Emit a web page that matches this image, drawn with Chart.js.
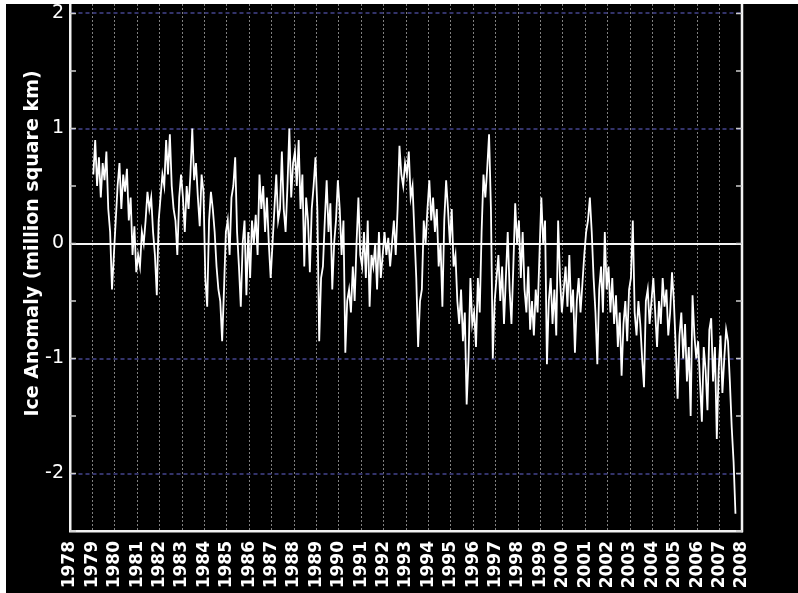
<!DOCTYPE html>
<html>
<head>
<meta charset="utf-8">
<script src="https://cdn.jsdelivr.net/npm/chart.js@4/dist/chart.umd.min.js"></script>
<style>
  html, body { margin: 0; padding: 0; background: #ffffff; width: 798px; height: 593px; overflow: hidden; }
  #wrap { position: absolute; left: 6px; top: 4px; width: 792px; height: 589px; background: #000; overflow: hidden; }
  #c { position: absolute; left: 0; top: -48px; }
</style>
</head>
<body>
<div id="wrap"><canvas id="c" width="792" height="640"></canvas></div>
<script>
// Years with monthly anomaly values (million square km)
const dataYears = [1979,1980,1981,1982,1983,1984,1985,1986,1987,1988,1989,1990,1991,1992,1993,
                   1994,1995,1996,1997,1998,1999,2000,2001,2002,2003,2004,2005,2006,2007];
const monthlyAnomaly = [
  [0.6, 0.9, 0.5, 0.75, 0.4, 0.7, 0.55, 0.8, 0.3, 0.1, -0.4, -0.1],        // 1979
  [0.2, 0.5, 0.7, 0.3, 0.6, 0.45, 0.65, 0.2, 0.4, -0.1, 0.15, -0.25],      // 1980
  [-0.1, -0.2, 0.1, 0.0, 0.2, 0.45, 0.3, 0.4, 0.1, -0.1, -0.45, 0.2],      // 1981
  [0.4, 0.6, 0.5, 0.9, 0.6, 0.95, 0.5, 0.3, 0.2, -0.1, 0.4, 0.6],          // 1982
  [0.4, 0.1, 0.5, 0.3, 0.6, 1.0, 0.55, 0.7, 0.4, 0.15, 0.6, 0.45],         // 1983
  [-0.3, -0.55, 0.2, 0.45, 0.3, 0.1, -0.2, -0.4, -0.5, -0.85, -0.4, 0.1],  // 1984
  [0.2, -0.1, 0.4, 0.5, 0.75, 0.1, -0.2, -0.55, 0.0, 0.2, -0.45, 0.1],     // 1985
  [-0.3, 0.2, 0.0, 0.25, -0.1, 0.6, 0.3, 0.5, 0.1, 0.4, 0.0, -0.3],        // 1986
  [0.0, 0.3, 0.6, 0.2, 0.3, 0.8, 0.3, 0.1, 0.5, 1.0, 0.4, 0.7],            // 1987
  [0.8, 0.5, 0.9, 0.3, 0.6, -0.2, 0.4, 0.2, -0.25, 0.3, 0.5, 0.75],        // 1988
  [0.3, -0.85, -0.3, -0.2, 0.2, 0.55, 0.1, 0.35, -0.4, 0.0, 0.2, 0.55],    // 1989
  [0.3, -0.1, 0.2, -0.95, -0.5, -0.4, -0.6, -0.2, -0.5, 0.0, 0.4, -0.1],   // 1990
  [-0.2, 0.1, -0.3, 0.2, -0.55, -0.1, -0.2, 0.0, -0.4, 0.1, -0.3, -0.1],   // 1991
  [0.1, -0.1, 0.05, -0.2, 0.0, 0.2, -0.1, 0.3, 0.85, 0.6, 0.5, 0.7],       // 1992
  [0.6, 0.8, 0.4, 0.5, 0.1, -0.3, -0.9, -0.5, -0.4, 0.2, 0.0, 0.3],        // 1993
  [0.55, 0.2, 0.4, 0.1, 0.3, -0.2, 0.0, -0.55, 0.2, 0.55, 0.3, 0.0],       // 1994
  [0.3, -0.2, -0.1, -0.5, -0.7, -0.4, -0.85, -0.6, -1.4, -1.0, -0.3, -0.7],// 1995
  [-0.6, -0.9, -0.3, -0.6, 0.1, 0.6, 0.4, 0.65, 0.95, 0.3, -1.0, -0.5],    // 1996
  [-0.3, -0.1, -0.5, -0.2, -0.7, -0.3, 0.1, -0.4, -0.7, -0.2, 0.35, 0.0],  // 1997
  [0.2, -0.3, 0.1, -0.4, -0.6, -0.2, -0.75, -0.5, -0.8, -0.4, -0.6, -0.1], // 1998
  [0.4, 0.0, 0.2, -1.05, -0.5, -0.3, -0.7, -0.4, -0.8, 0.2, -0.3, -0.6],   // 1999
  [-0.4, -0.2, -0.55, -0.1, -0.6, -0.4, -0.95, -0.5, -0.3, -0.6, -0.35, -0.1], // 2000
  [0.1, 0.2, 0.4, 0.1, -0.3, -0.6, -1.05, -0.4, -0.2, -0.6, 0.1, -0.4],    // 2001
  [-0.2, -0.6, -0.3, -0.7, -0.45, -0.9, -0.6, -1.15, -0.7, -0.5, -0.85, -0.4], // 2002
  [-0.3, 0.2, -0.6, -0.8, -0.5, -0.7, -1.0, -1.25, -0.5, -0.4, -0.7, -0.5],// 2003
  [-0.3, -0.6, -0.9, -0.5, -0.7, -0.3, -0.55, -0.4, -0.8, -0.6, -0.25, -0.5], // 2004
  [-0.9, -1.35, -0.8, -0.6, -1.0, -0.7, -1.2, -0.9, -1.5, -0.45, -0.8, -1.0], // 2005
  [-0.85, -1.2, -1.55, -0.9, -1.1, -1.45, -0.75, -0.65, -1.2, -0.9, -1.7, -1.1], // 2006
  [-0.8, -1.3, -1.0, -0.75, -0.85, -1.2, -1.6, -1.9, -2.35]                 // 2007
];
const xTickYears = [1978,1979,1980,1981,1982,1983,1984,1985,1986,1987,1988,1989,1990,1991,1992,
                    1993,1994,1995,1996,1997,1998,1999,2000,2001,2002,2003,2004,2005,2006,2007,2008];
const yTickValues = [-2, -1, 0, 1, 2];
const yAxisTitle = 'Ice Anomaly (million square km)';

const points = [];
dataYears.forEach((yr, i) => {
  monthlyAnomaly[i].forEach((v, m) => points.push({ x: yr + (m + 0.5) / 12, y: v }));
});

const framePlugin = {
  id: 'frame',
  afterDraw(chart) {
    const { ctx, chartArea: a, scales } = chart;
    ctx.save();
    ctx.strokeStyle = '#f2f2f2';
    ctx.lineWidth = 2.5;
    ctx.beginPath();
    ctx.moveTo(a.right, a.top);
    ctx.lineTo(a.right, a.bottom + 1.25);
    ctx.stroke();
    // small inward tick marks every 0.5 on left and right frame
    ctx.lineWidth = 1.5;
    ctx.strokeStyle = '#cccccc';
    for (let k = -5; k <= 5; k++) {
      const py = scales.y.getPixelForValue(k / 2);
      ctx.beginPath();
      ctx.moveTo(a.left, py); ctx.lineTo(a.left + 6, py);
      ctx.moveTo(a.right, py); ctx.lineTo(a.right - 6, py);
      ctx.stroke();
    }
    ctx.restore();
  }
};

new Chart(document.getElementById('c'), {
  type: 'line',
  data: {
    datasets: [{
      data: points,
      borderColor: '#ffffff',
      borderWidth: 1.8,
      pointRadius: 0,
      tension: 0,
      fill: false
    }]
  },
  options: {
    responsive: false,
    animation: false,
    devicePixelRatio: 1,
    layout: { padding: { top: 0, right: 56, bottom: 0, left: 0 } },
    plugins: { legend: { display: false }, tooltip: { enabled: false } },
    scales: {
      x: {
        type: 'linear',
        min: 1978,
        max: 2008,
        afterBuildTicks: s => { s.ticks = xTickYears.map(v => ({ value: v })); },
        afterFit: s => { s.height = 65; s.paddingLeft = 0; s.paddingRight = 0; },
        ticks: {
          color: '#ffffff',
          font: { family: 'DejaVu Sans', size: 17, weight: 'bold' },
          minRotation: 90,
          maxRotation: 90,
          autoSkip: false,
          padding: 10,
          callback: v => String(v)
        },
        grid: { color: '#808080', lineWidth: 1, drawTicks: false },
        border: { color: '#f2f2f2', width: 2.5, dash: c => (c.tick ? [2, 2] : []) }
      },
      y: {
        min: -2.5,
        max: 2.5,
        afterBuildTicks: s => { s.ticks = yTickValues.map(v => ({ value: v })); },
        afterFit: s => { s.width = 64; s.paddingTop = 0; s.paddingBottom = 0; },
        ticks: {
          color: '#ffffff',
          font: { family: 'DejaVu Sans', size: 19 },
          padding: 6,
          callback: v => String(v)
        },
        grid: {
          color: c => (c.tick && c.tick.value === 0 ? '#f4f4f4' : '#33336a'),
          lineWidth: 2,
          drawTicks: false
        },
        border: {
          color: '#f2f2f2',
          width: 2.5,
          dash: c => (c.tick && c.tick.value !== 0 ? [4, 3] : [])
        },
        title: {
          display: true,
          text: yAxisTitle,
          color: '#ffffff',
          font: { family: 'DejaVu Sans', size: 19, weight: 'bold' },
          padding: { top: 16, bottom: 0 }
        }
      }
    }
  },
  plugins: [framePlugin]
});
</script>
</body>
</html>
